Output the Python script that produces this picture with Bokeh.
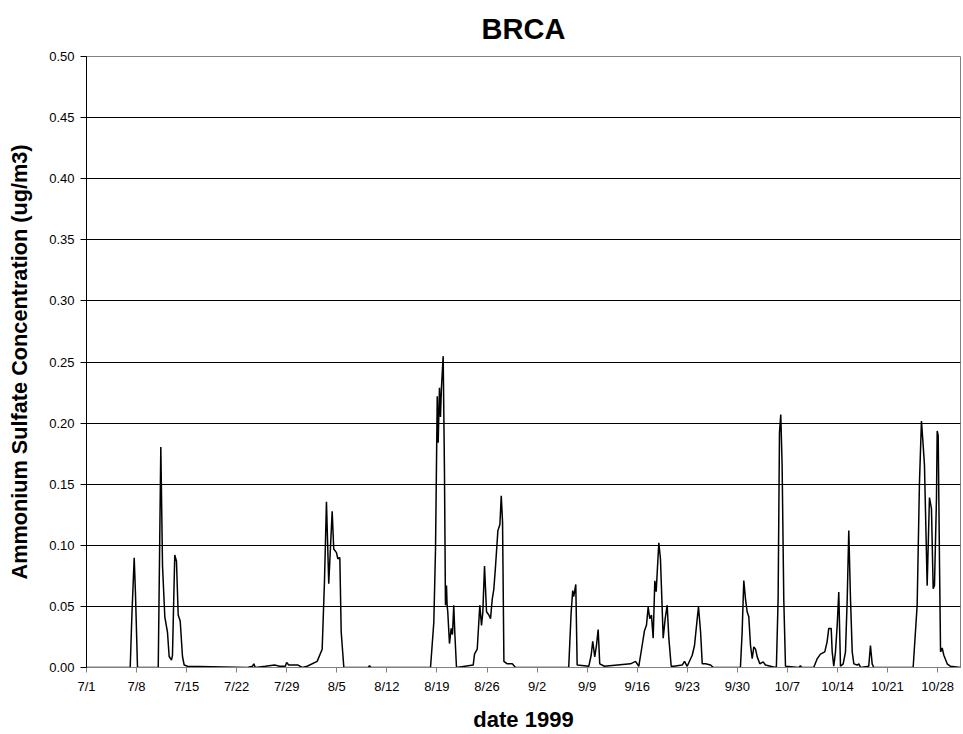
from bokeh.plotting import figure
from bokeh.models import FixedTicker, Range1d
from bokeh.embed import file_html
from bokeh.resources import INLINE

# days since 7/1/1999 and concentration (ug/m3)
days = [
    0.0, 6.11, 6.36, 6.67, 6.85, 7.13,
    10.03, 10.21, 10.39, 10.63, 10.95, 11.32, 11.56, 11.88, 12.02, 12.34, 12.58, 12.82, 13.10, 13.42, 13.66, 14.12,
    22.5, 23.2, 23.4, 23.6, 25.0, 26.3, 27.0, 27.8, 27.98, 28.28, 29.58, 30.17,
    30.85, 32.25, 32.95, 33.27, 33.55, 33.87, 34.35, 34.57, 34.95, 35.14, 35.42, 35.61, 35.98,
    39.4, 39.57, 39.75,
    48.10, 48.56, 48.80, 49.04, 49.17, 49.35, 49.49, 49.62, 49.87, 50.05, 50.19, 50.33, 50.42, 50.51, 50.75, 50.99, 51.17, 51.35, 51.49, 51.73,
    54.07, 54.25, 54.63, 54.99, 55.23, 55.41, 55.65, 55.93, 56.25, 56.49, 56.73, 56.95, 57.19, 57.52, 57.80, 57.99, 58.17, 58.36, 58.83, 59.53, 59.99,
    67.42, 67.76, 67.98, 68.12, 68.26, 68.41, 68.60,
    70.23, 70.56, 70.78, 71.06, 71.30, 71.54, 71.76, 72.42,
    76.06, 76.76, 77.22,
    77.69, 78.01, 78.29, 78.53, 78.75, 78.99, 79.23, 79.46, 79.65, 80.02, 80.25, 80.49, 80.63, 80.91, 81.19, 81.42, 81.75, 82.12,
    83.29, 83.61, 83.99, 84.69, 85.01, 85.39, 85.57, 85.86, 86.09, 86.56, 87.26, 87.64,
    91.43, 91.67, 91.90, 92.14, 92.37, 92.60, 92.84, 93.08, 93.30, 93.54, 93.78, 94.14, 94.61, 94.93, 95.63, 96.33,
    96.46, 96.70, 96.89, 97.07, 97.26, 97.49, 97.73,
    99.6, 99.82, 100.0,
    101.67, 102.15, 102.62, 103.22, 103.55, 103.78, 104.12, 104.26, 104.48, 104.72, 104.96, 105.18, 105.42,
    105.80, 106.12, 106.36, 106.58, 106.82, 107.06, 107.29, 107.76, 107.99, 108.23,
    109.37, 109.61, 109.85, 110.07,
    115.58, 116.14, 116.46, 116.74, 116.92, 117.16, 117.54, 117.86, 118.14, 118.38, 118.56, 118.84, 118.94, 119.08,
    119.27, 119.41, 119.64, 119.87, 120.34, 120.80, 122.2,
]
conc = [
    0.0, 0.0, 0.045, 0.0897, 0.06, 0.0,
    0.0, 0.09, 0.1805, 0.083, 0.0415, 0.029, 0.009, 0.006, 0.01, 0.092, 0.087, 0.043, 0.038, 0.009, 0.002, 0.001,
    0.0, 0.001, 0.003, 0.0, 0.001, 0.002, 0.001, 0.001, 0.004, 0.002, 0.002, 0.0,
    0.001, 0.005, 0.015, 0.07, 0.1357, 0.0685, 0.1278, 0.097, 0.094, 0.089, 0.09, 0.029, 0.0,
    0.0, 0.0015, 0.0,
    0.0, 0.037, 0.097, 0.222, 0.184, 0.229, 0.205, 0.228, 0.2548, 0.16, 0.051, 0.067, 0.051, 0.0456, 0.0196, 0.032, 0.027, 0.051, 0.029, 0.0,
    0.002, 0.011, 0.015, 0.051, 0.0345, 0.045, 0.083, 0.0456, 0.043, 0.04, 0.056, 0.064, 0.083, 0.112, 0.117, 0.1405, 0.119, 0.005, 0.003, 0.003, 0.0,
    0.0, 0.045, 0.063, 0.058, 0.063, 0.068, 0.002,
    0.001, 0.01, 0.0215, 0.0087, 0.018, 0.031, 0.003, 0.001,
    0.003, 0.005, 0.001,
    0.018, 0.030, 0.0345, 0.0495, 0.040, 0.043, 0.024, 0.071, 0.062, 0.102, 0.089, 0.048, 0.024, 0.040, 0.051, 0.024, 0.001, 0.001,
    0.002, 0.005, 0.001, 0.01, 0.018, 0.040, 0.0495, 0.029, 0.003, 0.003, 0.002, 0.0,
    0.0, 0.029, 0.0712, 0.056, 0.0456, 0.0415, 0.018, 0.0073, 0.0169, 0.015, 0.0087, 0.003, 0.0046, 0.002, 0.001, 0.0,
    0.001, 0.056, 0.192, 0.207, 0.165, 0.056, 0.001,
    0.0, 0.0015, 0.0,
    0.0, 0.007, 0.011, 0.0128, 0.021, 0.032, 0.032, 0.0128, 0.001, 0.0128, 0.0345, 0.0617, 0.001,
    0.003, 0.0128, 0.056, 0.112, 0.056, 0.0128, 0.003, 0.002, 0.003, 0.0,
    0.001, 0.018, 0.003, 0.0,
    0.0, 0.051, 0.151, 0.2017, 0.187, 0.166, 0.067, 0.139, 0.130, 0.0644, 0.067, 0.138, 0.1936, 0.19,
    0.083, 0.0128, 0.016, 0.01, 0.003, 0.001, 0.0,
]

x_tick_days = [0, 7, 14, 21, 28, 35, 42, 49, 56, 63, 70, 77, 84, 91, 98, 105, 112, 119]
x_tick_labels = ["7/1", "7/8", "7/15", "7/22", "7/29", "8/5", "8/12", "8/19", "8/26",
                 "9/2", "9/9", "9/16", "9/23", "9/30", "10/7", "10/14", "10/21", "10/28"]
y_ticks = [0.0, 0.05, 0.10, 0.15, 0.20, 0.25, 0.30, 0.35, 0.40, 0.45, 0.50]

FONT = "Liberation Sans"

p = figure(width=963, height=734, output_backend="svg", toolbar_location=None,
           x_range=Range1d(0, 122.2), y_range=Range1d(0, 0.5),
           min_border_left=86, min_border_right=3, min_border_top=56, min_border_bottom=65)
p.background_fill_color = "white"
p.border_fill_color = "white"
p.outline_line_color = "#808080"
p.outline_line_width = 1

p.line(days, conc, line_color="black", line_width=1.5)

p.title.text = "BRCA"
p.title.align = "center"
p.title.vertical_align = "top"
p.title.text_font = FONT
p.title.text_font_size = "29px"
p.title.text_font_style = "bold"
p.title.text_color = "black"
p.title.standoff = 20

p.xgrid.visible = False
p.ygrid.ticker = FixedTicker(ticks=y_ticks)
p.ygrid.grid_line_color = "black"
p.ygrid.grid_line_width = 1

xa = p.xaxis[0]
xa.ticker = FixedTicker(ticks=x_tick_days)
xa.major_label_overrides = {d: l for d, l in zip(x_tick_days, x_tick_labels)}
xa.minor_tick_line_color = None
xa.major_tick_in = 0
xa.major_tick_out = 5
xa.major_tick_line_color = "#808080"
xa.axis_line_color = "#808080"
xa.major_label_text_font = FONT
xa.major_label_text_font_size = "13px"
xa.major_label_text_color = "black"
xa.major_label_standoff = 6
xa.axis_label = "date 1999"
xa.axis_label_text_font = FONT
xa.axis_label_text_font_size = "22px"
xa.axis_label_text_font_style = "bold"
xa.axis_label_text_color = "black"
xa.axis_label_standoff = 10

ya = p.yaxis[0]
ya.ticker = FixedTicker(ticks=y_ticks)
ya.major_label_overrides = {t: f"{t:.2f}" for t in y_ticks}
ya.minor_tick_line_color = None
ya.major_tick_in = 0
ya.major_tick_out = 6
ya.major_tick_line_color = "black"
ya.axis_line_color = "black"
ya.major_label_text_font = FONT
ya.major_label_text_font_size = "13px"
ya.major_label_text_color = "black"
ya.major_label_standoff = 6
ya.axis_label = "Ammonium Sulfate Concentration (ug/m3)"
ya.axis_label_text_font = FONT
ya.axis_label_text_font_size = "21.7px"
ya.axis_label_text_font_style = "bold"
ya.axis_label_text_color = "black"
ya.axis_label_standoff = 14

open("out.html", "w").write(file_html(p, INLINE))
